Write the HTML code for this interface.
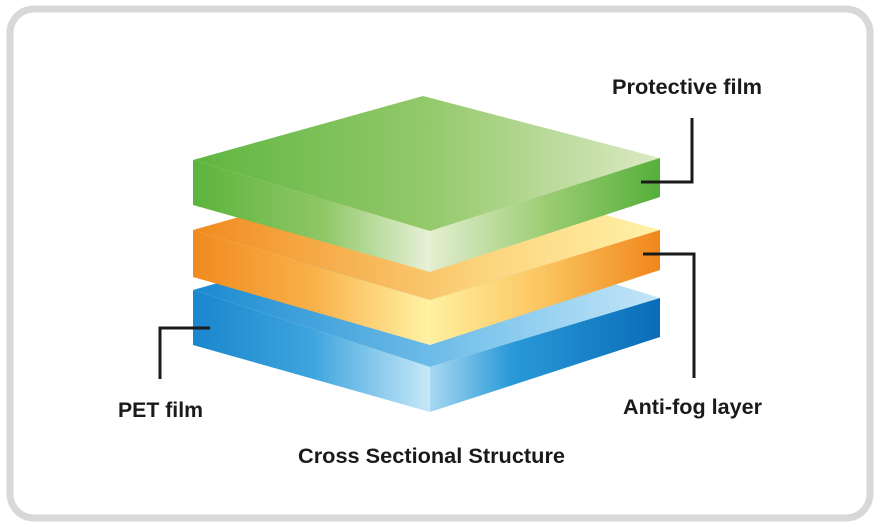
<!DOCTYPE html>
<html><head><meta charset="utf-8"><style>
html,body{margin:0;padding:0;background:#fff;}
body{width:881px;height:524px;overflow:hidden;}
svg text{font-family:"Liberation Sans",Arial,sans-serif;font-weight:bold;fill:#1a1a1a;}
</style></head><body>
<svg width="881" height="524" viewBox="0 0 881 524" xmlns="http://www.w3.org/2000/svg">
<defs>
<linearGradient id="gTop" x1="193" y1="0" x2="660" y2="0" gradientUnits="userSpaceOnUse">
<stop offset="0" stop-color="#5fb641"/><stop offset="0.5" stop-color="#93c96a"/><stop offset="1" stop-color="#dde9c4"/></linearGradient>
<linearGradient id="gL" x1="193" y1="0" x2="430" y2="0" gradientUnits="userSpaceOnUse">
<stop offset="0" stop-color="#5cb43c"/><stop offset="0.55" stop-color="#8ec766"/><stop offset="1" stop-color="#e8f1d8"/></linearGradient>
<linearGradient id="gR" x1="430" y1="0" x2="660" y2="0" gradientUnits="userSpaceOnUse">
<stop offset="0" stop-color="#e3eed0"/><stop offset="0.5" stop-color="#9ccd74"/><stop offset="1" stop-color="#55b03a"/></linearGradient>
<linearGradient id="oTop" x1="193" y1="0" x2="660" y2="0" gradientUnits="userSpaceOnUse">
<stop offset="0" stop-color="#f08a1e"/><stop offset="0.6" stop-color="#fcd27a"/><stop offset="1" stop-color="#fff2a8"/></linearGradient>
<linearGradient id="oL" x1="193" y1="0" x2="430" y2="0" gradientUnits="userSpaceOnUse">
<stop offset="0" stop-color="#f08a1e"/><stop offset="0.5" stop-color="#f9b048"/><stop offset="1" stop-color="#fff3a4"/></linearGradient>
<linearGradient id="oR" x1="430" y1="0" x2="660" y2="0" gradientUnits="userSpaceOnUse">
<stop offset="0" stop-color="#fff0a0"/><stop offset="0.5" stop-color="#fbc45e"/><stop offset="1" stop-color="#f0861c"/></linearGradient>
<linearGradient id="bTop" x1="193" y1="0" x2="660" y2="0" gradientUnits="userSpaceOnUse">
<stop offset="0" stop-color="#1a8ad0"/><stop offset="0.6" stop-color="#7cc4ec"/><stop offset="1" stop-color="#c4e6f8"/></linearGradient>
<linearGradient id="bL" x1="193" y1="0" x2="430" y2="0" gradientUnits="userSpaceOnUse">
<stop offset="0" stop-color="#1a86cc"/><stop offset="0.5" stop-color="#3ea4de"/><stop offset="1" stop-color="#c6e8f8"/></linearGradient>
<linearGradient id="bR" x1="430" y1="0" x2="660" y2="0" gradientUnits="userSpaceOnUse">
<stop offset="0" stop-color="#a8d8f2"/><stop offset="0.35" stop-color="#2a9ad8"/><stop offset="1" stop-color="#0a6cb8"/></linearGradient>
</defs>
<rect x="10" y="9" width="860" height="509" rx="24" ry="24" fill="#fff" stroke="#d6d8da" stroke-width="7"/>

<polygon points="193,290 423,225 660,298 430,367" fill="url(#bTop)"/>
<polygon points="193,290 430,367 430,412 193,345" fill="url(#bL)"/>
<polygon points="430,367 660,298 660,337 430,412" fill="url(#bR)"/>
<polygon points="193,230 423,165 660,230 430,300" fill="url(#oTop)"/>
<polygon points="193,230 430,300 430,345 193,277" fill="url(#oL)"/>
<polygon points="430,300 660,230 660,270 430,345" fill="url(#oR)"/>
<polygon points="193,160 423,96 660,158 430,231" fill="url(#gTop)"/>
<polygon points="193,160 430,231 430,272 193,205" fill="url(#gL)"/>
<polygon points="430,231 660,158 660,197 430,272" fill="url(#gR)"/>

<polyline points="641,182 692,182 692,118" fill="none" stroke="#1a1a1a" stroke-width="3"/>
<polyline points="643,254 694,254 694,378" fill="none" stroke="#1a1a1a" stroke-width="3"/>
<polyline points="210,328 160,328 160,379" fill="none" stroke="#1a1a1a" stroke-width="3"/>

<text x="612" y="94" font-size="21" textLength="150" lengthAdjust="spacingAndGlyphs">Protective film</text>
<text x="623" y="414" font-size="21" textLength="139" lengthAdjust="spacingAndGlyphs">Anti-fog layer</text>
<text x="118" y="417" font-size="21" textLength="85" lengthAdjust="spacingAndGlyphs">PET film</text>
<text x="298" y="463" font-size="21" textLength="267" lengthAdjust="spacingAndGlyphs">Cross Sectional Structure</text>
</svg>
</body></html>
